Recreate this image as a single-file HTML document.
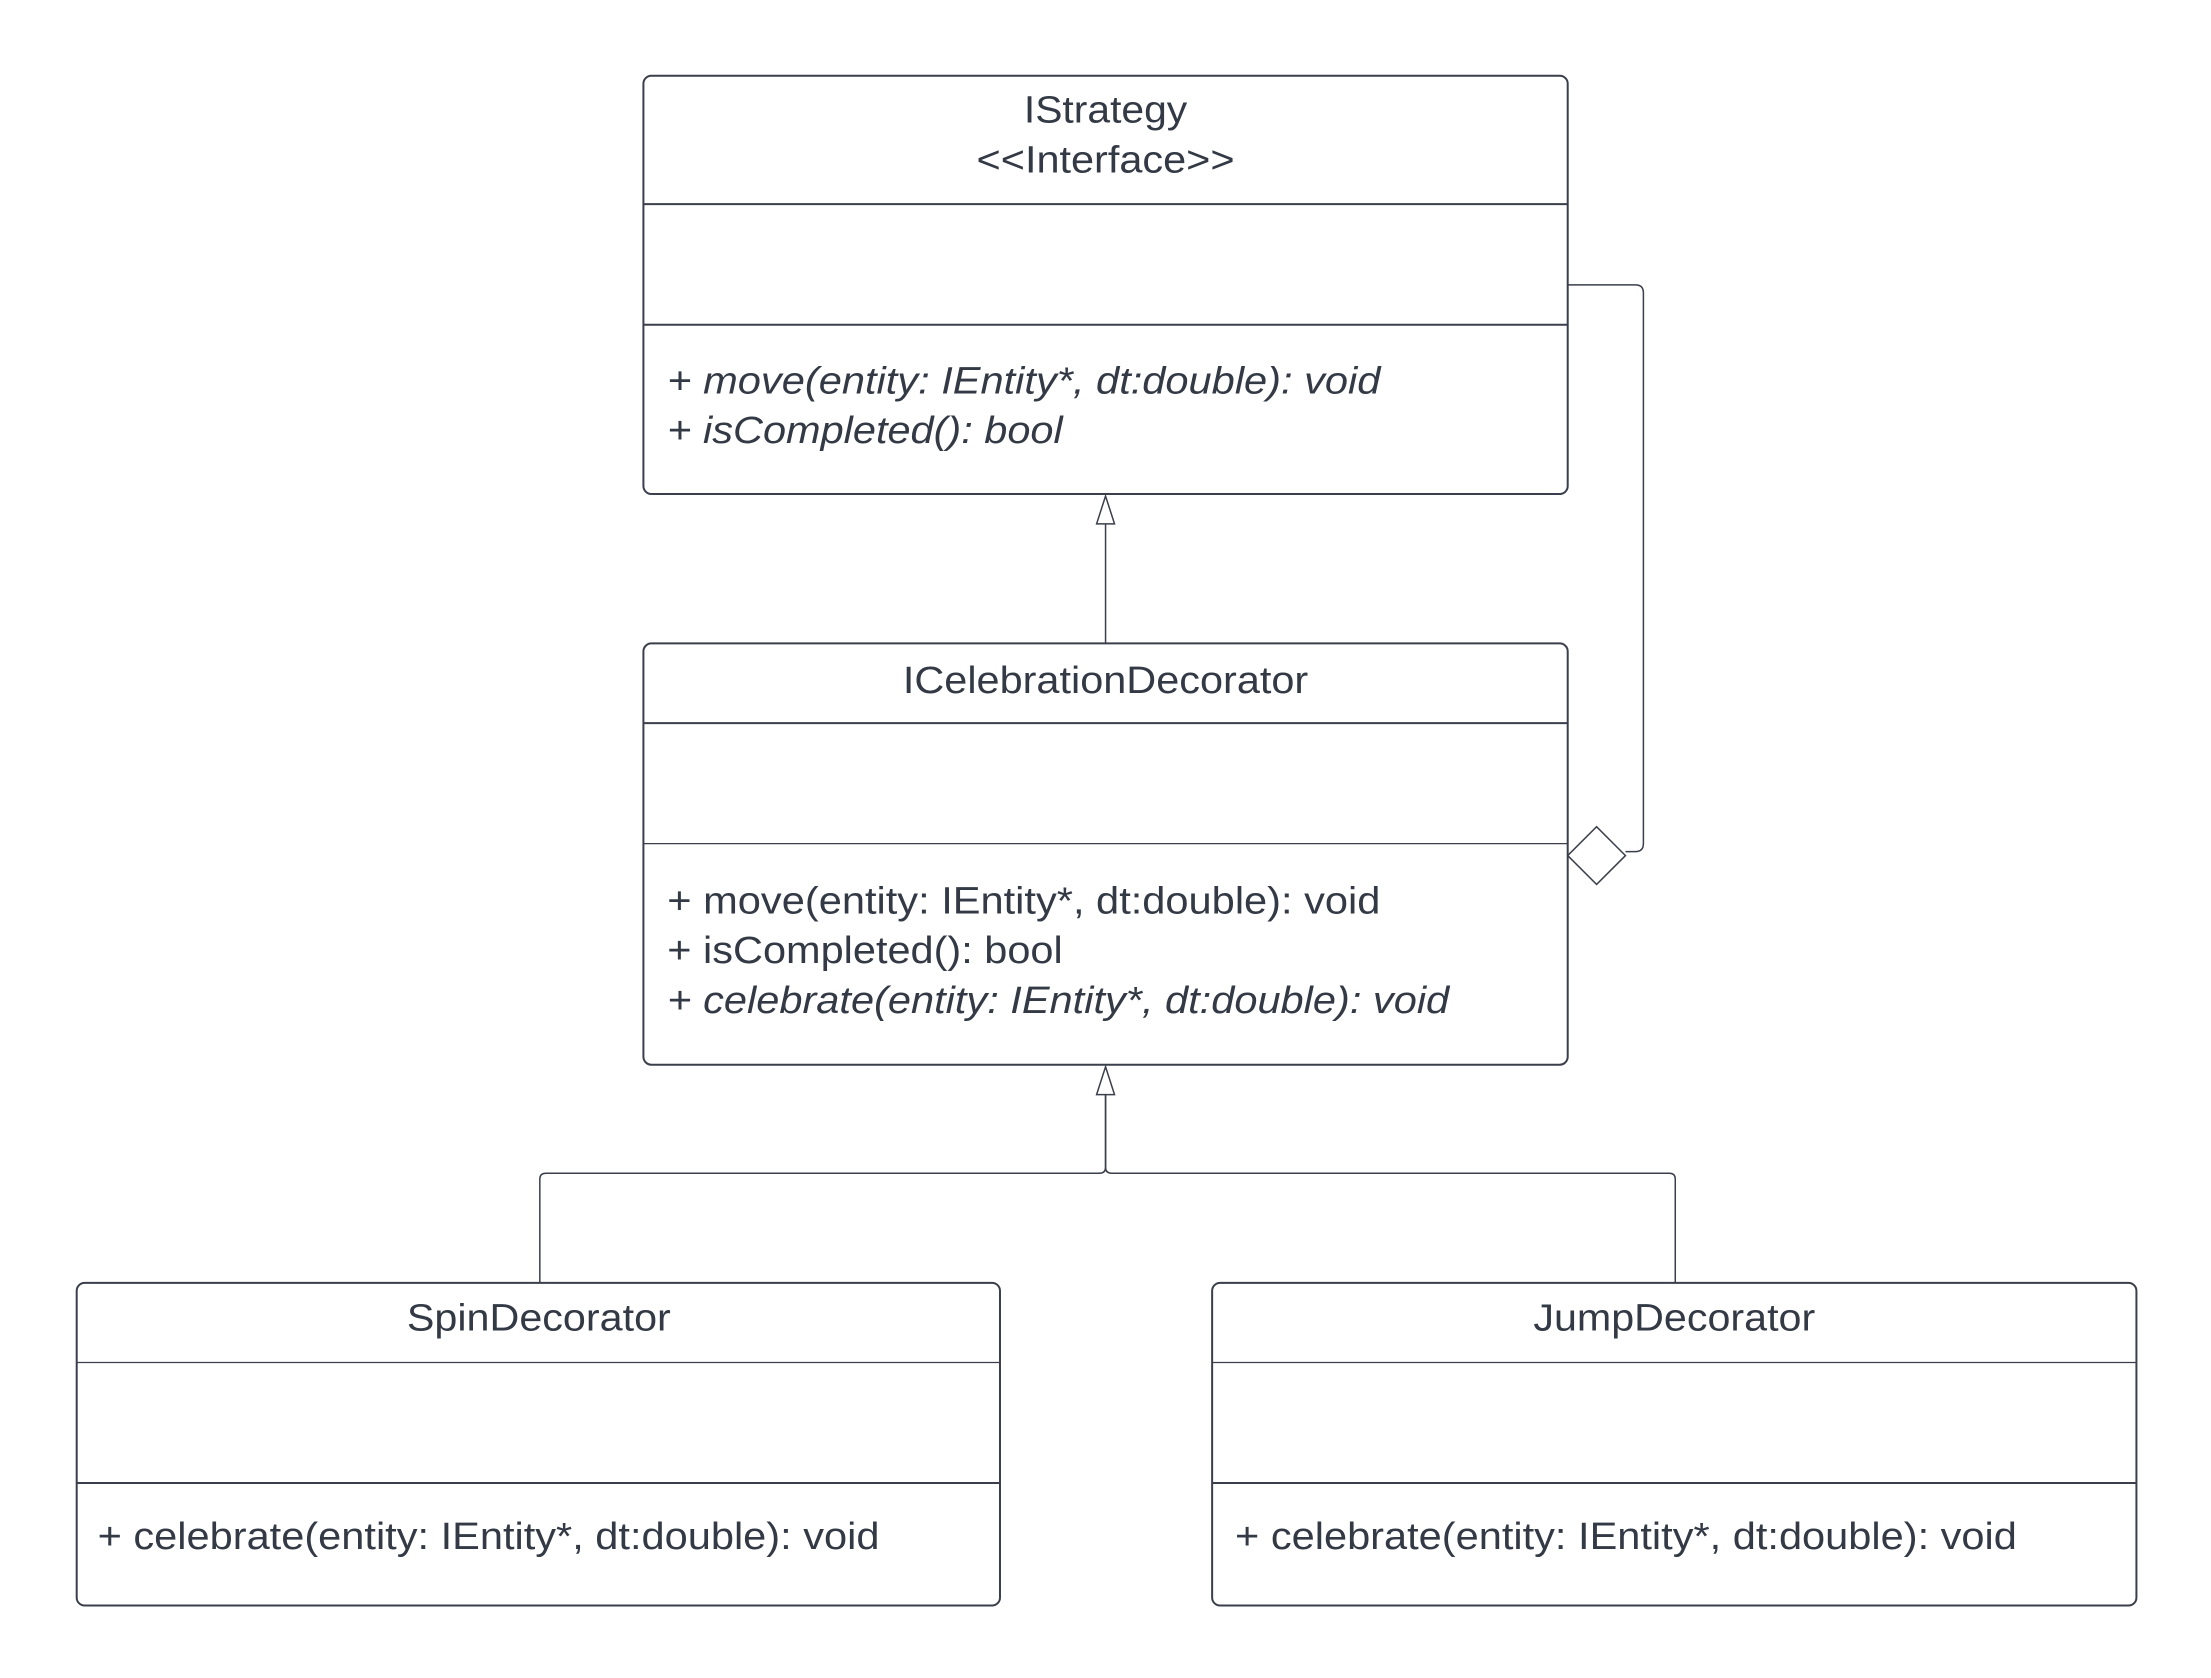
<!DOCTYPE html>
<html><head><meta charset="utf-8"><style>
html,body{margin:0;padding:0;background:#fff;}
svg{display:block;}
text{font-family:"Liberation Sans",Arial,sans-serif;font-size:38px;fill:#333a45;}
.i{font-style:italic;}
</style></head><body>
<svg width="2211" height="1678" viewBox="0 0 2211 1678" xmlns="http://www.w3.org/2000/svg">
<g transform="scale(0.996)">
<g fill="none" stroke="#3a3f4b" stroke-width="2">
<rect x="646" y="76" width="928" height="420" rx="8"/>
<line x1="646" y1="205" x2="1574" y2="205"/>
<line x1="646" y1="326" x2="1574" y2="326"/>
<rect x="646" y="646" width="928" height="423" rx="8"/>
<line x1="646" y1="726" x2="1574" y2="726"/>
<line x1="646" y1="847" x2="1574" y2="847" stroke-width="1.3"/>
<rect x="77" y="1288" width="927" height="324" rx="8"/>
<line x1="77" y1="1368" x2="1004" y2="1368" stroke-width="1.3"/>
<line x1="77" y1="1489" x2="1004" y2="1489"/>
<rect x="1217" y="1288" width="928" height="324" rx="8"/>
<line x1="1217" y1="1368" x2="2145" y2="1368" stroke-width="1.3"/>
<line x1="1217" y1="1489" x2="2145" y2="1489"/>
</g>
<g fill="none" stroke="#3a3f4b" stroke-width="1.5">
<line x1="1110" y1="646" x2="1110" y2="526"/>
<polygon points="1110,498 1101,526 1119,526" fill="#fff"/>
<polygon points="1110,1071 1101,1099 1119,1099" fill="#fff"/>
<path d="M1110 1099 V1172 q0 6 -6 6 H548 q-6 0 -6 6 V1288"/>
<path d="M1110 1099 V1172 q0 6 6 6 H1676 q6 0 6 6 V1288"/>
<path d="M1574 286 H1642 q8 0 8 8 V847 q0 8 -8 8 H1632"/>
<polygon points="1574,859 1603,830 1632,859 1603,888" fill="#fff"/>
</g>
<text x="1110" y="123" text-anchor="middle" textLength="164" lengthAdjust="spacingAndGlyphs">IStrategy</text>
<text x="1110" y="173" text-anchor="middle" textLength="259" lengthAdjust="spacingAndGlyphs">&lt;&lt;Interface&gt;&gt;</text>
<text x="670" y="395" class="i" textLength="716" lengthAdjust="spacingAndGlyphs">+ move(entity: IEntity*, dt:double): void</text>
<text x="670" y="445" class="i" textLength="397" lengthAdjust="spacingAndGlyphs">+ isCompleted(): bool</text>
<text x="1110" y="696" text-anchor="middle" textLength="407" lengthAdjust="spacingAndGlyphs">ICelebrationDecorator</text>
<text x="670" y="917" textLength="716" lengthAdjust="spacingAndGlyphs">+ move(entity: IEntity*, dt:double): void</text>
<text x="670" y="967" textLength="397" lengthAdjust="spacingAndGlyphs">+ isCompleted(): bool</text>
<text x="670" y="1017" class="i" textLength="785" lengthAdjust="spacingAndGlyphs">+ celebrate(entity: IEntity*, dt:double): void</text>
<text x="541" y="1336" text-anchor="middle" textLength="265" lengthAdjust="spacingAndGlyphs">SpinDecorator</text>
<text x="98" y="1555" textLength="785" lengthAdjust="spacingAndGlyphs">+ celebrate(entity: IEntity*, dt:double): void</text>
<text x="1681" y="1336" text-anchor="middle" textLength="283" lengthAdjust="spacingAndGlyphs">JumpDecorator</text>
<text x="1240" y="1555" textLength="785" lengthAdjust="spacingAndGlyphs">+ celebrate(entity: IEntity*, dt:double): void</text>
</g>
</svg>
</body></html>
